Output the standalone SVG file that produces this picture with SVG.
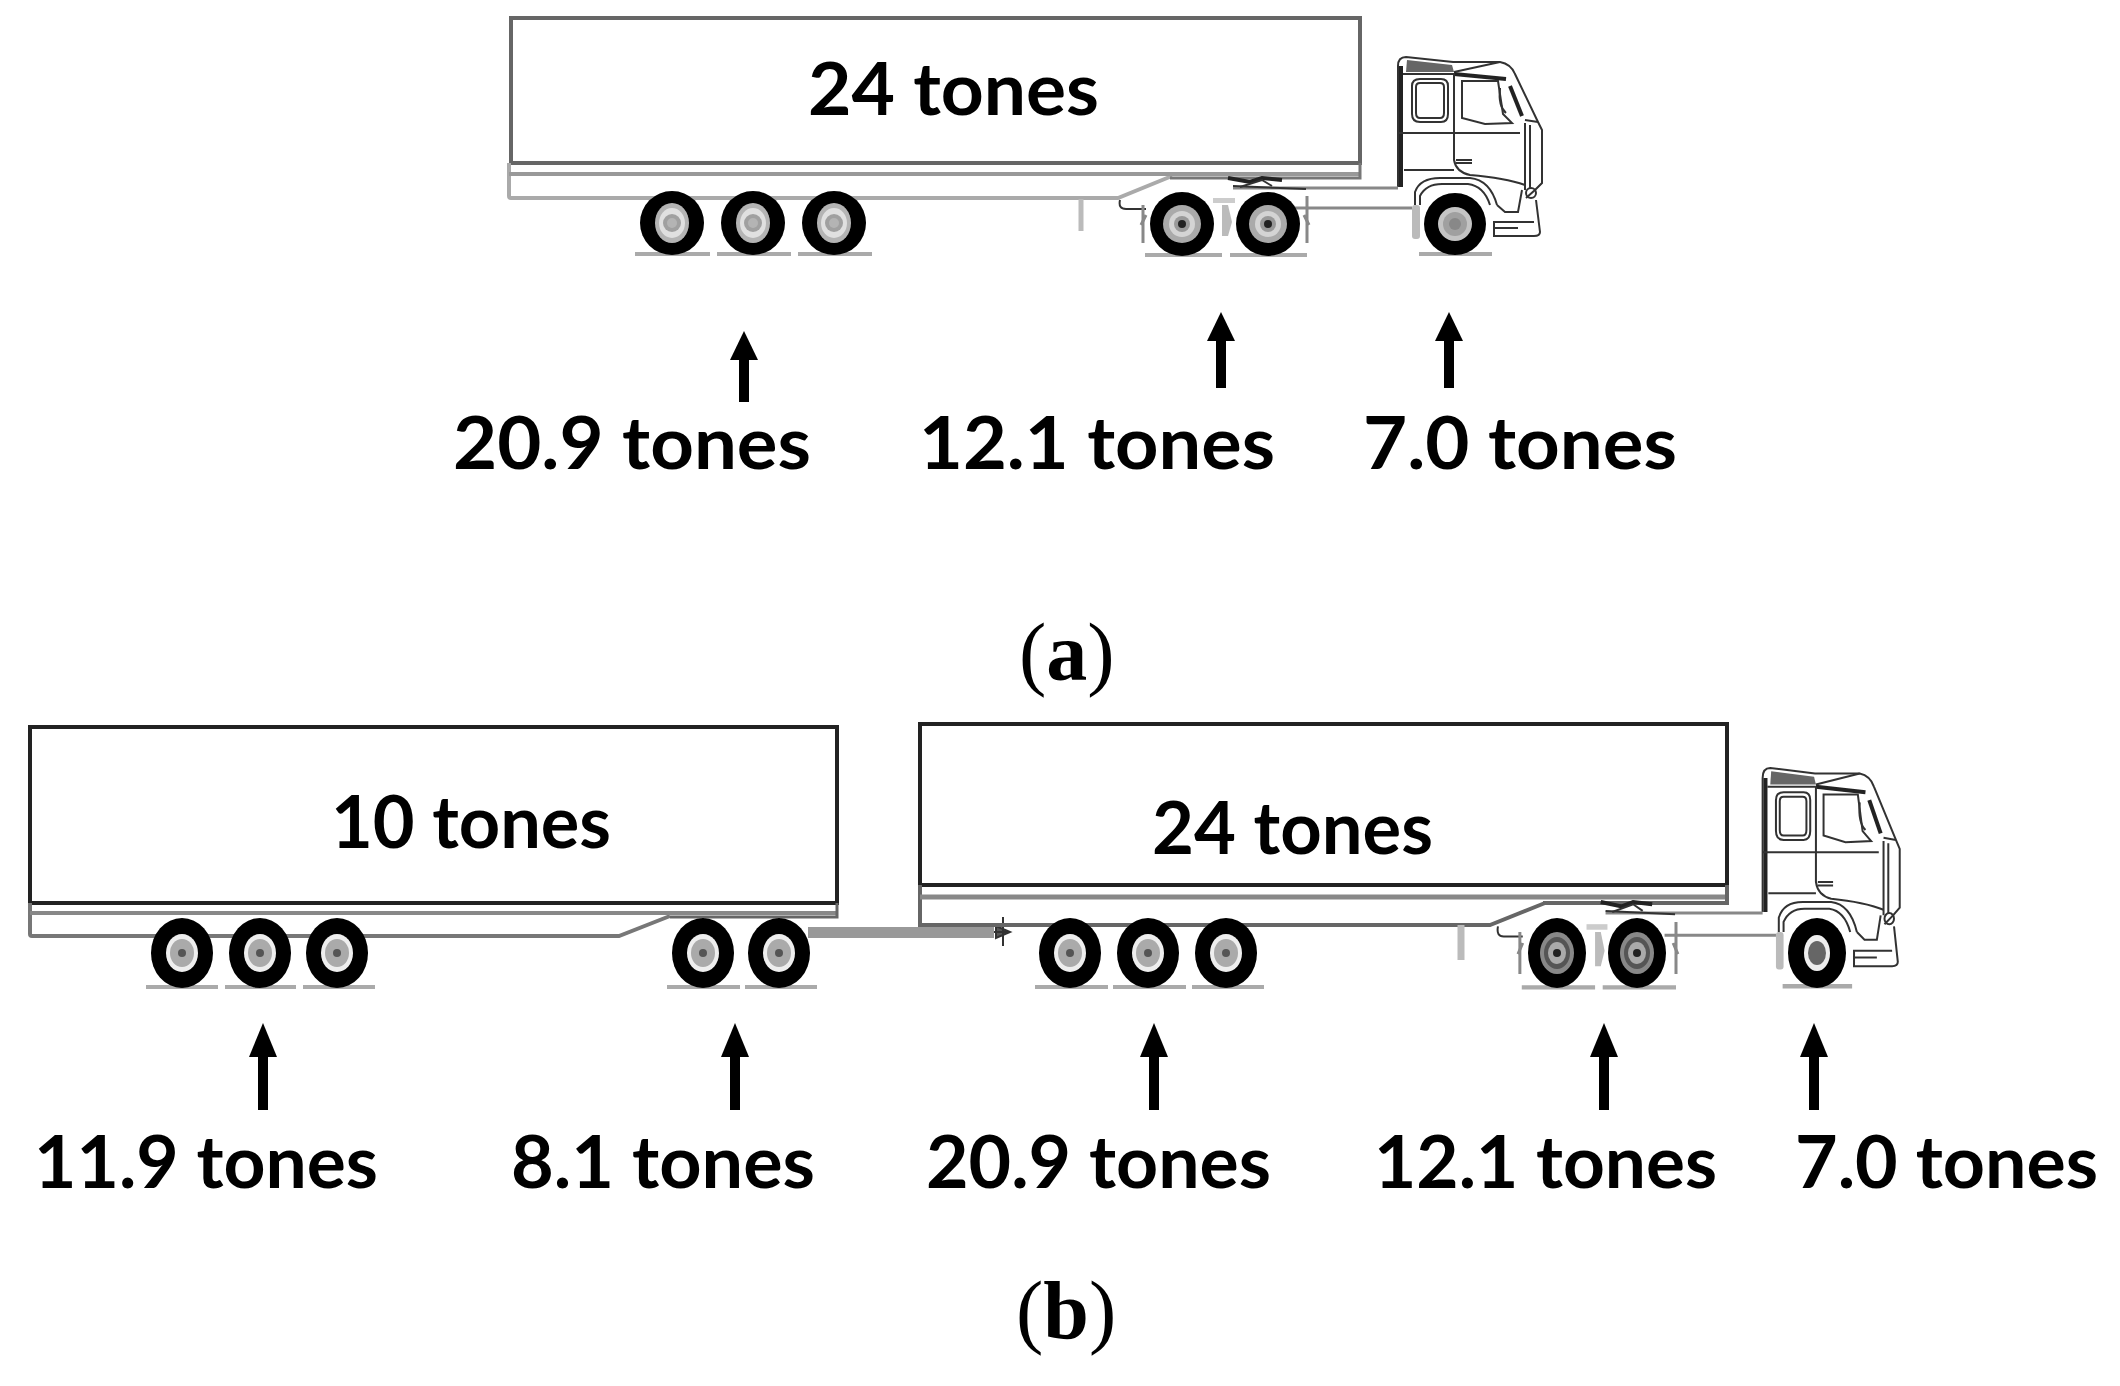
<svg xmlns="http://www.w3.org/2000/svg" width="2120" height="1386" viewBox="0 0 2120 1386">
<style>
.lb{font-family:"Lato","Liberation Sans",sans-serif;font-weight:700;font-size:72px;fill:#000}
.cap{font-family:"Liberation Serif",serif;font-size:82px;fill:#000}
.cap tspan{font-weight:700}
.ln{fill:none;stroke:#333;stroke-width:2;vector-effect:non-scaling-stroke}
.th{fill:none;stroke:#222;stroke-width:4;vector-effect:non-scaling-stroke}
.gr{fill:none;stroke:#888;stroke-width:3;vector-effect:non-scaling-stroke}
.gd{stroke:#aaa;stroke-width:4;fill:none}
.box{fill:#fff;stroke:#666;stroke-width:4}
.boxd{fill:#fff;stroke:#222;stroke-width:4}
.arA{stroke:#000;stroke-width:10;fill:none;marker-end:url(#hA)}
.arB{stroke:#000;stroke-width:10;fill:none;marker-end:url(#hB)}
.soft{filter:url(#soft)}
</style>
<defs>
<filter id="soft" x="-2%" y="-2%" width="104%" height="104%"><feGaussianBlur stdDeviation="0.7"/></filter>
<marker id="hA" markerUnits="userSpaceOnUse" markerWidth="30" markerHeight="30" refX="0" refY="14" orient="auto" overflow="visible"><path d="M0 0L29 14L0 28Z" fill="#000"/></marker>
<marker id="hB" markerUnits="userSpaceOnUse" markerWidth="36" markerHeight="30" refX="0" refY="14" orient="auto" overflow="visible"><path d="M0 0L34 14L0 28Z" fill="#000"/></marker>
<g id="wheel">
<ellipse rx="32" ry="32" fill="#000"/>
<ellipse rx="17" ry="20" fill="#b4b4b4"/><ellipse rx="13" ry="15" fill="#e0e0e0"/><circle r="9" fill="#a0a0a0"/><circle r="5" fill="#b4b4b4"/>
</g>
<g id="wheelT">
<ellipse rx="32" ry="32" fill="#000"/>
<circle r="19" fill="#aaa"/><circle r="13" fill="#d4d4d4"/><circle r="8" fill="#999"/><circle r="4" fill="#222"/>
</g>
<g id="wheelF">
<ellipse rx="31" ry="31" fill="#000"/>
<circle r="17" fill="#c4c4c4"/><circle r="12" fill="#a0a0a0"/><circle r="6" fill="#888"/>
</g>
<g id="wheelB">
<ellipse rx="31" ry="35" fill="#000"/>
<ellipse rx="16" ry="19" fill="#eee"/><ellipse rx="12" ry="14" fill="#aaa"/><circle r="4" fill="#555"/>
</g>
<g id="wheelC">
<ellipse rx="29" ry="35" fill="#000"/>
<ellipse rx="17" ry="21" fill="#888"/><ellipse rx="13" ry="16" fill="#555"/><ellipse rx="9" ry="11" fill="#aaa"/><circle r="4" fill="#222"/>
</g>
<g id="wheelD">
<ellipse rx="29" ry="35" fill="#000"/>
<ellipse rx="13" ry="18" fill="#eee"/><ellipse rx="9" ry="12" fill="#666"/>
</g>
<g id="cab">
<path class="ln" d="M1398 187V66Q1398 57 1406 57L1453 62L1500 62Q1511 64 1515 74L1538 122L1542 130V183L1535 190"/>
<path class="th" d="M1401 187V66"/>
<path d="M1407 60L1452 65L1454 72H1406Z" fill="#666"/>
<path class="ln" d="M1454 72L1500 62"/>
<path class="th" d="M1454 74L1506 79"/>
<path class="ln" d="M1403 74H1454M1398 133H1520M1404 170H1454M1454 74V160Q1456 172 1470 175Q1505 178 1525 185"/>
<path class="ln" d="M1420 79H1441Q1448 79 1448 86V114Q1448 122 1441 122H1420Q1412 122 1412 114V86Q1412 79 1420 79Z"/>
<path class="ln" d="M1420 83H1440Q1444 83 1444 87V113Q1444 118 1440 118H1420Q1416 118 1416 113V87Q1416 83 1420 83Z"/>
<path class="ln" d="M1462 81H1498L1503 114L1512 123L1485 124L1462 118Z"/>
<path class="th" d="M1510 86L1522 116"/>
<path class="ln" d="M1500 88Q1498 106 1506 113"/>
<path class="ln" d="M1525 123V190M1530 125V188M1538 122L1525 120"/>
<path class="ln" d="M1456 160H1472M1456 163H1472"/>
<path class="ln" d="M1415 205V192Q1420 178 1440 178H1470Q1490 180 1497 205"/>
<path class="ln" d="M1420 205V196Q1426 184 1442 184H1468Q1484 186 1490 205"/>
<rect x="1412" y="205" width="8" height="34" rx="3" fill="#bbb"/>
<path class="ln" d="M1497 205L1505 212H1518L1522 190M1535 190L1526 198M1536 200L1540 232Q1540 236 1534 236H1494V222H1534M1494 228H1518"/>
<circle cx="1531" cy="193" r="5" class="ln"/>
<path class="gr" d="M1233 188H1398M1295 208H1412"/>
<path class="ln" d="M1120 200Q1118 209 1126 209H1146M1233 186L1306 189"/>
<path class="th" d="M1228 178L1250 182L1262 178L1282 180"/>
<path class="ln" d="M1240 187L1262 180L1272 186"/>
<path class="gr" d="M1143 205V243M1307 196V243"/><path class="gr" d="M1141 225L1146 215M1309 225L1304 215"/>
<path d="M1222 205H1228L1232 222L1228 236H1222Z" fill="#bbb"/>
<rect x="1213" y="198" width="22" height="5" fill="#ccc"/>
<path class="gd" d="M1145 255H1222M1230 255H1307M1419 254H1492"/>
</g>
</defs>
<rect width="2120" height="1386" fill="#fff"/>

<g id="connectors">
<line class="arA" x1="744" y1="402" x2="744" y2="360"/>
<line class="arA" x1="1221" y1="388" x2="1221" y2="341"/>
<line class="arA" x1="1449" y1="388" x2="1449" y2="341"/>
<line class="arB" x1="263" y1="1110" x2="263" y2="1057"/>
<line class="arB" x1="735" y1="1110" x2="735" y2="1057"/>
<line class="arB" x1="1154" y1="1110" x2="1154" y2="1057"/>
<line class="arB" x1="1604" y1="1110" x2="1604" y2="1057"/>
<line class="arB" x1="1814" y1="1110" x2="1814" y2="1057"/>
</g>

<g id="truck-a" class="soft">
<g id="trailer-a">
<rect class="box" x="511" y="18" width="849" height="145"/>
<path d="M509 163V196Q509 198 511 198H1118L1172 176" fill="none" stroke="#aaa" stroke-width="4"/>
<path d="M509 174H1360" fill="none" stroke="#999" stroke-width="4"/>
<path d="M1360 163V178H1170" fill="none" stroke="#777" stroke-width="3"/>
<path d="M1081 199V231" stroke="#bbb" stroke-width="5"/>
<path class="gd" d="M635 254H710M717 254H791M798 254H872"/>
<use href="#wheel" x="672" y="223"/><use href="#wheel" x="753" y="223"/><use href="#wheel" x="834" y="223"/>
</g>
<g id="tractor-a">
<use href="#cab"/>
<use href="#wheelT" x="1182" y="224"/><use href="#wheelT" x="1268" y="224"/><use href="#wheelF" x="1455" y="224"/>
</g>
</g>

<g id="truck-b" class="soft">
<g id="trailer-b1">
<rect class="boxd" x="30" y="727" width="807" height="176"/>
<path d="M30 903V934Q30 936 32 936H619L670 916" fill="none" stroke="#777" stroke-width="4"/>
<path d="M30 913H837" fill="none" stroke="#888" stroke-width="4"/>
<path d="M837 903V917H670" fill="none" stroke="#666" stroke-width="3"/>
<path class="gd" d="M146 987H218M225 987H296M303 987H375M667 987H740M745 987H817"/>
<use href="#wheelB" x="182" y="953"/><use href="#wheelB" x="260" y="953"/><use href="#wheelB" x="337" y="953"/>
<use href="#wheelB" x="703" y="953"/><use href="#wheelB" x="779" y="953"/>
<rect x="808" y="927" width="186" height="11" fill="#999"/>
<path d="M994 932L1008 932M1003 917V946M996 926L1010 932L996 938Z" fill="#555" stroke="#333" stroke-width="2"/>
</g>
<g id="trailer-b2">
<rect class="boxd" x="920" y="724" width="807" height="161"/>
<path d="M920 885V925H1490L1545 903" fill="none" stroke="#666" stroke-width="4"/>
<path d="M920 897H1727" fill="none" stroke="#888" stroke-width="5"/>
<path d="M1727 885V903H1543" fill="none" stroke="#666" stroke-width="4"/>
<path d="M1461 925V960" stroke="#bbb" stroke-width="7"/>
<path class="gd" d="M1035 987H1108M1113 987H1186M1192 987H1264"/>
<use href="#wheelB" x="1070" y="953"/><use href="#wheelB" x="1148" y="953"/><use href="#wheelB" x="1226" y="953"/>
</g>
<g id="tractor-b">
<use href="#cab" transform="translate(1557 953) scale(0.952 1.108) translate(-1182 -224)"/>
<use href="#wheelC" x="1557" y="953"/><use href="#wheelC" x="1637" y="953"/><use href="#wheelD" x="1817" y="953"/>
</g>
</g>

<g id="labels">
<text class="lb" x="808" y="115" textLength="291" lengthAdjust="spacingAndGlyphs">24 tones</text>
<text class="lb" x="453" y="469" textLength="358" lengthAdjust="spacingAndGlyphs">20.9 tones</text>
<text class="lb" x="919" y="469" textLength="356" lengthAdjust="spacingAndGlyphs">12.1 tones</text>
<text class="lb" x="1363" y="469" textLength="314" lengthAdjust="spacingAndGlyphs">7.0 tones</text>
<text class="cap" x="1019" y="680">(<tspan>a</tspan>)</text>
<text class="lb" x="331" y="848" textLength="280" lengthAdjust="spacingAndGlyphs">10 tones</text>
<text class="lb" x="1152" y="854" textLength="281" lengthAdjust="spacingAndGlyphs">24 tones</text>
<text class="lb" x="34" y="1188" textLength="344" lengthAdjust="spacingAndGlyphs">11.9 tones</text>
<text class="lb" x="511" y="1188" textLength="304" lengthAdjust="spacingAndGlyphs">8.1 tones</text>
<text class="lb" x="926" y="1188" textLength="345" lengthAdjust="spacingAndGlyphs">20.9 tones</text>
<text class="lb" x="1374" y="1188" textLength="343" lengthAdjust="spacingAndGlyphs">12.1 tones</text>
<text class="lb" x="1795" y="1188" textLength="303" lengthAdjust="spacingAndGlyphs">7.0 tones</text>
<text class="cap" x="1016" y="1338">(<tspan>b</tspan>)</text>
</g>
</svg>
